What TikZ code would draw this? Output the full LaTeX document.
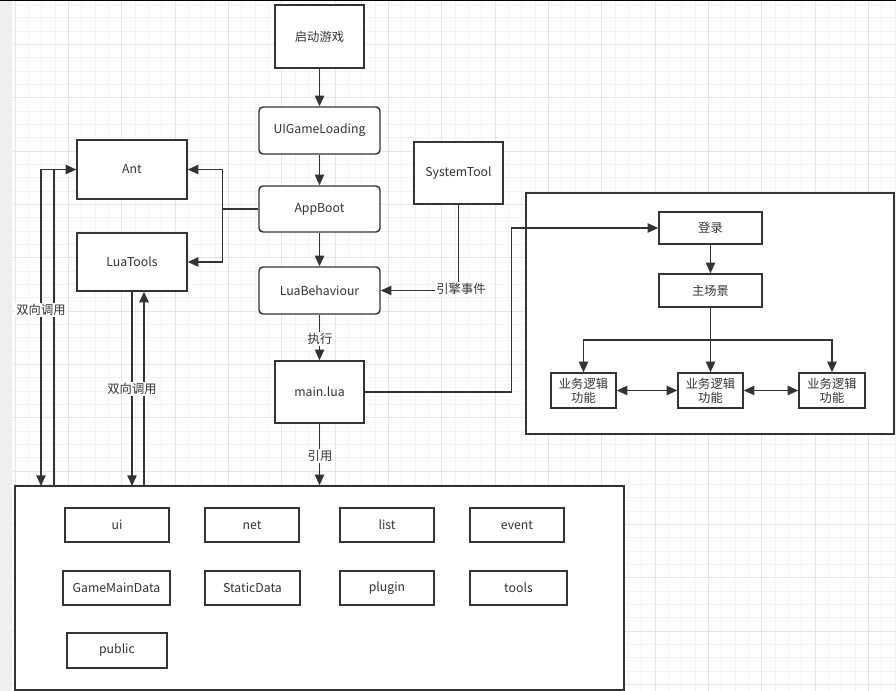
\documentclass[tikz,border=0pt]{standalone}
\usepackage{fontspec}
\setmainfont{Noto Sans CJK SC}
\usetikzlibrary{arrows.meta}
\definecolor{linec}{HTML}{333333}
\definecolor{textc}{HTML}{333333}
\definecolor{gridminor}{HTML}{F3F3F3}
\definecolor{gridmajor}{HTML}{E6E6E6}
\definecolor{stripc}{HTML}{EFEFEF}
\newcommand\mkbox[7][bx]{%
  \pgfmathsetmacro\bxw{(#5-#3)*0.75}%
  \pgfmathsetmacro\bxh{(#6-#4)*0.75}%
  \node[#1, minimum width=\bxw pt, minimum height=\bxh pt] (#2) at ({(#3+#5)/2},{(#4+#6)/2}) {#7};}
\begin{document}
\begin{tikzpicture}[x=0.75pt,y=-0.75pt,
  bx/.style={draw=linec, line width=1.1pt, inner sep=0pt, fill=white, text=textc,
    font=\fontsize{9.2}{10.5}\selectfont, align=center},
  rbx/.style={bx, rounded corners=3pt},
  arr/.style={draw=linec, line width=1.1pt, -{Triangle[length=8pt,width=7pt]}},
  arrtwo/.style={draw=linec, line width=1.1pt, {Triangle[length=8pt,width=7pt]}-{Triangle[length=8pt,width=7pt]}},
  ln/.style={draw=linec, line width=1.1pt},
  lbl/.style={fill=white, text=textc, font=\fontsize{9.2}{10.5}\selectfont, inner sep=1pt}]
\useasboundingbox (0,0) rectangle (896,691);
% background
\fill[white] (0,0) rectangle (896,691);
\fill[stripc] (0,0) rectangle (12,691);
\foreach \i in {0,...,66} \draw[gridminor, line width=0.6pt] ({15+\i*13.333},1.5) -- ({15+\i*13.333},691);
\foreach \i in {0,...,51} \draw[gridminor, line width=0.6pt] (12,{4.4+\i*13.333}) -- (896,{4.4+\i*13.333});
\foreach \i in {0,...,16} \draw[gridmajor, line width=0.7pt] ({15+\i*53.333},1.5) -- ({15+\i*53.333},691);
\foreach \i in {0,...,12} \draw[gridmajor, line width=0.7pt] (12,{44.4+\i*53.333}) -- (896,{44.4+\i*53.333});
\fill[black] (0,0) rectangle (896,1.5);

% big containers
\mkbox{rightbox}{526}{193}{894}{434}{}
\mkbox{bottom}{15}{486}{624}{690}{}

% main column
\mkbox{start}{275}{5}{364}{68}{启动游戏}
\mkbox[rbx]{uig}{259}{107}{380}{154}{UIGameLoading}
\mkbox[rbx]{appboot}{259}{186}{380}{232}{AppBoot}
\mkbox[rbx]{luab}{259}{267}{380}{314}{LuaBehaviour}
\mkbox{main}{275}{361}{364}{423}{main.lua}
\mkbox{systool}{414}{142}{503}{204}{SystemTool}
\mkbox{ant}{77}{140}{187}{199}{Ant}
\mkbox{luatools}{77}{233}{187}{291}{LuaTools}

% right box
\mkbox{login}{659}{212}{762}{244}{登录}
\mkbox{scene}{659}{274}{762}{307}{主场景}
\mkbox{biz1}{551}{373}{616}{408}{业务逻辑\\功能}
\mkbox{biz2}{678}{373}{743}{408}{业务逻辑\\功能}
\mkbox{biz3}{799}{373}{865}{408}{业务逻辑\\功能}

% bottom box modules
\mkbox{ui}{65}{508}{169}{542}{ui}
\mkbox{net}{205}{508}{299}{542}{net}
\mkbox{list}{340}{508}{434}{542}{list}
\mkbox{event}{470}{508}{564}{542}{event}
\mkbox{gmd}{63}{571}{170}{605}{GameMainData}
\mkbox{sdata}{205}{571}{300}{605}{StaticData}
\mkbox{plugin}{340}{571}{434}{605}{plugin}
\mkbox{tools}{470}{571}{567}{605}{tools}
\mkbox{public}{67}{633}{167}{668}{public}

% coordinates
\coordinate (bA) at (41,486);
\coordinate (bB) at (54,486);
\coordinate (bC) at (132,486);
\coordinate (bD) at (144,486);
\coordinate (br) at (710.5,340);

% connectors
\draw[arr] (start) -- (uig);
\draw[arr] (uig) -- (appboot);
\draw[arr] (appboot) -- (luab);
\draw[arr] (luab) -- (main);
\draw[arr] (main.south) -- (main.south |- bottom.north);
\draw[arr] (appboot.west) -- ++(-36,0) |- (ant.east);
\draw[arr] (appboot.west) -- ++(-36,0) |- (luatools.east);
\draw[arr] (ant.west) -| (bA);
\draw[arr] (bB) |- (ant.west);
\draw[arr] (luatools.south) -- (bC);
\draw[arr] (bD) -- (bD |- luatools.south);
\draw[arr] (systool.south) |- (luab.east);
\draw[arr] (main.east) -- ++(147,0) |- (login.west);
\draw[arr] (login) -- (scene);
\draw[ln] (scene.south) -- (br);
\draw[arr] (br) -| (biz1.north);
\draw[arr] (br) -- (biz2.north);
\draw[arr] (br) -| (biz3.north);
\draw[arrtwo] (biz1.east) -- (biz2.west);
\draw[arrtwo] (biz2.east) -- (biz3.west);

% labels
\node[lbl] (l1) at (320,339) {执行};
\node[lbl] (l2) at (320,456) {引用};
\node[lbl] (l3) at (41,310) {双向调用};
\node[lbl] (l4) at (132,389) {双向调用};
\node[lbl] (l5) at (461,289) {引擎事件};
\end{tikzpicture}
\end{document}
